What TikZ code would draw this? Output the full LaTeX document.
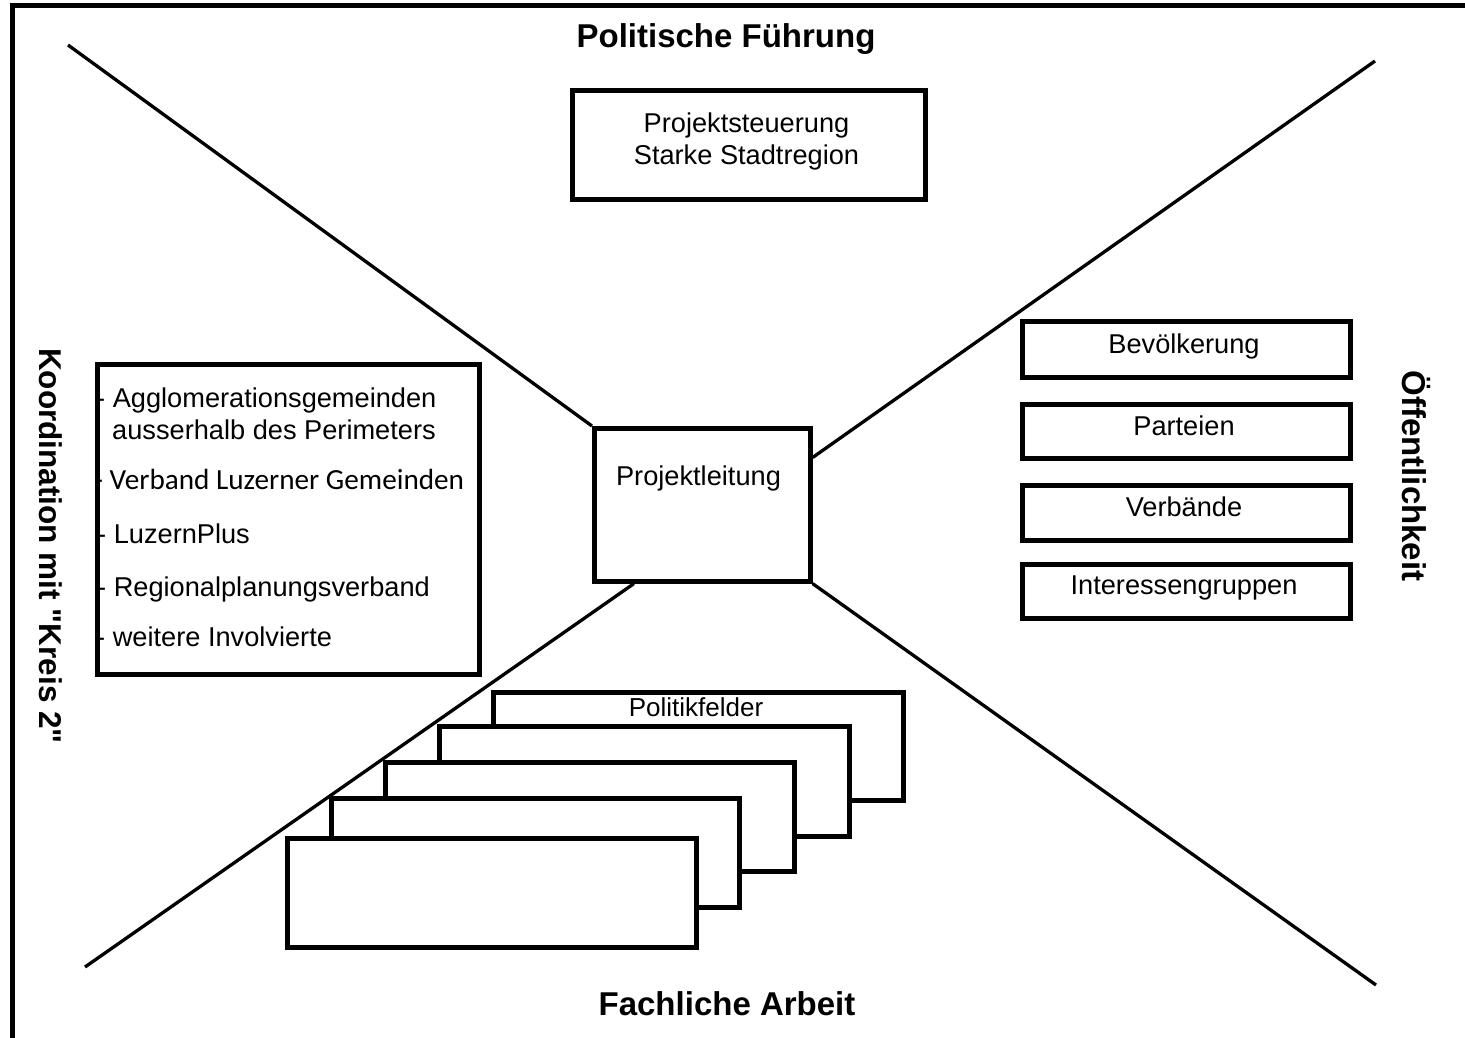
\documentclass[tikz,border=0pt]{standalone}
\usepackage{fontspec}
\setmainfont{Liberation Sans}
\newfontfamily\calib{Carlito}
\newfontfamily\rawsans{Liberation Sans}
\usetikzlibrary{calc}
\begin{document}
\begin{tikzpicture}[x=1pt,y=-1pt,
  box/.style={draw,line width=4.6pt,fill=white,inner sep=0pt},
  diag/.style={line width=3.3pt},
  frame/.style={line width=5pt},
  lbl/.style={font=\fontsize{27.2}{32}\selectfont,inner sep=0pt},
  item/.style={lbl,anchor=base west},
  title/.style={font=\bfseries\fontsize{33}{38}\selectfont,inner sep=0pt}]
\useasboundingbox (0,0) rectangle (1465,1037);
\fill[white] (0,0) rectangle (1465,1037);
% frame (top and left edges)
\coordinate (fbl) at (12,1040);
\coordinate (ftl) at (12,5);
\coordinate (ftr) at (1468,5);
\draw[frame] (fbl) -- (ftl) -- (ftr);

% diagonal end points
\coordinate (dtl) at (68,45);
\coordinate (dtr) at (1375,61);
\coordinate (dbl) at (85,967);
\coordinate (dbr) at (1376,985);

% central box (defined first for anchors, drawn again on top)
\path (592,426) coordinate (plnw);
\node[box,anchor=north west,minimum width=216pt,minimum height=153pt] (pl) at (plnw) {};
\draw[diag] (dtl) -- (pl.north west);
\draw[diag] (dtr) -- ($(pl.north east)!0.2!(pl.south east)$);
\draw[diag] (dbl) -- ($(pl.south west)!0.19!(pl.south east)$);
\draw[diag] (dbr) -- (pl.south east);
\node[box,anchor=north west,minimum width=216pt,minimum height=153pt] (plb) at (plnw) {};
\node[lbl,anchor=base] (pltext) at (698.5,485) {Projektleitung};

% titles
\node[title,anchor=base] (tpol) at (726,47) {Politische Führung};
\node[title,anchor=base] (tfach) at (727,1015) {Fachliche Arbeit};
\node[title,font=\rawsans\bfseries\fontsize{31.5}{38}\selectfont,rotate=-90] (tkoord) at (51,546) {Koordination mit "Kreis 2"};
\node[title,rotate=-90] (toeff) at (1416,476) {Öffentlichkeit};

% top box
\node[box,anchor=north west,minimum width=353pt,minimum height=109pt] (ps) at (570,88) {};
\node[lbl,anchor=base] (ps1) at (746.5,132) {Projektsteuerung};
\node[lbl,anchor=base] (ps2) at (746.5,164) {Starke Stadtregion};

% left box
\node[box,anchor=north west,minimum width=382pt,minimum height=310pt] (kr) at (95,362) {};
\node[item] (k1) at (96,407) {- Agglomerationsgemeinden};
\node[item] (k1b) at (112,439) {ausserhalb des Perimeters};
\node[item,font=\calib\fontsize{29.2}{34}\selectfont] (k2) at (94,489) {- Verband Luzerner Gemeinden};
\node[item] (k3) at (97,543) {- LuzernPlus};
\node[item] (k4) at (97,596) {- Regionalplanungsverband};
\node[item] (k5) at (96,646) {- weitere Involvierte};

% right boxes
\node[box,anchor=north west,minimum width=328pt,minimum height=56pt] (o1) at (1020,319) {};
\node[box,anchor=north west,minimum width=328pt,minimum height=54pt] (o2) at (1020,402) {};
\node[box,anchor=north west,minimum width=328pt,minimum height=55pt] (o3) at (1020,483) {};
\node[box,anchor=north west,minimum width=328pt,minimum height=54pt] (o4) at (1020,562) {};
\node[lbl,anchor=base] (o1t) at (1184,353) {Bevölkerung};
\node[lbl,anchor=base] (o2t) at (1184,435) {Parteien};
\node[lbl,anchor=base] (o3t) at (1184,516) {Verbände};
\node[lbl,anchor=base] (o4t) at (1184,594) {Interessengruppen};

% stacked boxes (back to front)
\node[box,anchor=north west,minimum width=410pt,minimum height=108pt] (f1) at (491,690) {};
\node[lbl,anchor=base,font=\fontsize{26}{30}\selectfont] (f1t) at (696,716) {Politikfelder};
\node[box,anchor=north west,minimum width=410pt,minimum height=110pt] (f2) at (437,724) {};
\node[box,anchor=north west,minimum width=409pt,minimum height=109pt] (f3) at (383,760) {};
\node[box,anchor=north west,minimum width=408pt,minimum height=109pt] (f4) at (329,796) {};
\node[box,anchor=north west,minimum width=409pt,minimum height=109pt] (f5) at (285,836) {};
\end{tikzpicture}
\end{document}
